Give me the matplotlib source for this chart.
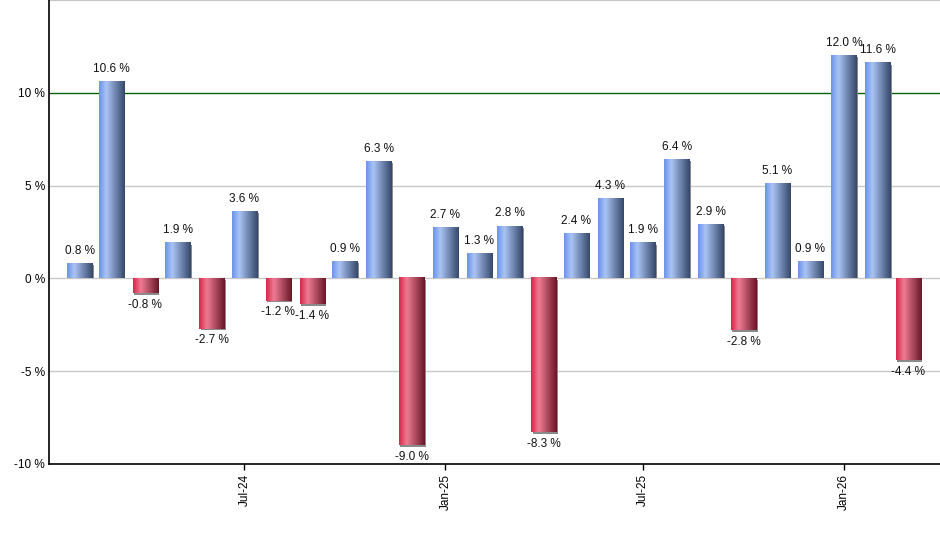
import numpy as np
import matplotlib
matplotlib.use("Agg")
import matplotlib.pyplot as plt
import matplotlib.dates as mdates
import matplotlib.transforms as mtransforms
from matplotlib.colors import LinearSegmentedColormap
from matplotlib.patches import Rectangle
import datetime as dt

plt.rcParams['font.family'] = ['Liberation Sans', 'DejaVu Sans']

# monthly returns, Feb-24 .. Mar-26
months = ["2024-02", "2024-03", "2024-04", "2024-05", "2024-06", "2024-07",
          "2024-08", "2024-09", "2024-10", "2024-11", "2024-12", "2025-01",
          "2025-02", "2025-03", "2025-04", "2025-05", "2025-06", "2025-07",
          "2025-08", "2025-09", "2025-10", "2025-11", "2025-12", "2026-01",
          "2026-02", "2026-03"]
values = [0.8, 10.6, -0.8, 1.9, -2.7, 3.6, -1.2, -1.4, 0.9, 6.3, -9.0, 2.7,
          1.3, 2.8, -8.3, 2.4, 4.3, 1.9, 6.4, 2.9, -2.8, 5.1, 0.9, 12.0,
          11.6, -4.4]
tick_months = ["2024-07", "2025-01", "2025-07", "2026-01"]
tick_labels = ["Jul-24", "Jan-25", "Jul-25", "Jan-26"]
y_ticks = [-10, -5, 0, 5, 10]

to_date = lambda s: dt.datetime.strptime(s + "-01", "%Y-%m-%d")
xs = mdates.date2num([to_date(m) for m in months])

blue_cm = LinearSegmentedColormap.from_list(
    "b", [(0, "#6a93e8"), (0.28, "#aac4f5"), (1, "#36486a")])
red_cm = LinearSegmentedColormap.from_list(
    "r", [(0, "#d8264a"), (0.3, "#ef7b93"), (1, "#681828")])
grad = np.linspace(0, 1, 64).reshape(1, -1)

fig = plt.figure(figsize=(9.4, 5.5), dpi=100)
ax = fig.add_axes([49 / 940, 86 / 550, 891 / 940, 464 / 550])

xmin, xmax = xs[0] - 28, xs[-1] + 29
ymin, ymax = -10, 15

# grid lines
for y in [-5, 0, 5, 15]:
    ax.axhline(y, color="#c8c8c8", lw=1, zorder=1)
ax.axhline(10, color="#006400", lw=1, zorder=1)

w = 23  # bar width in days
shadow_tr = ax.transData + mtransforms.ScaledTranslation(1.5 / 100, -1.5 / 100, fig.dpi_scale_trans)
px = (ymax - ymin) / 464.0  # one pixel in data units
for x, v in zip(xs, values):
    x0, x1 = x - w / 2, x + w / 2
    lo, hi = min(0, v), max(0, v)
    s_lo = lo if v < 0 else 1.5 * px
    ax.add_patch(Rectangle((x0, s_lo), w, hi - s_lo, color="#8a8a8a", lw=0,
                           transform=shadow_tr, zorder=2))
    cm = blue_cm if v >= 0 else red_cm
    ax.imshow(grad, cmap=cm, extent=[x0, x1, lo, hi], aspect="auto",
              interpolation="bilinear", zorder=3)
    if v >= 0:
        ax.annotate(f"{v:.1f} %", (x, v), xytext=(0, 5), textcoords="offset points",
                    ha="center", va="bottom", fontsize=8.5, color="#111111")
    else:
        ax.annotate(f"{v:.1f} %", (x, v), xytext=(0, -4), textcoords="offset points",
                    ha="center", va="top", fontsize=8.5, color="#111111")

ax.set_xlim(xmin, xmax)
ax.set_ylim(ymin, ymax)

ax.set_xticks(mdates.date2num([to_date(m) for m in tick_months]))
ax.set_xticklabels(tick_labels, rotation=90, fontsize=8.5)
ax.set_yticks(y_ticks)
ax.set_yticklabels([f"{t} %" for t in y_ticks], fontsize=8.5)
ax.tick_params(axis="x", length=4, width=1, pad=3)
ax.tick_params(axis="y", length=0, pad=3)

for s in ["top", "right"]:
    ax.spines[s].set_visible(False)
for s in ["left", "bottom"]:
    ax.spines[s].set_linewidth(1.2)
    ax.spines[s].set_zorder(5)

fig.savefig("out.png", dpi=100)
